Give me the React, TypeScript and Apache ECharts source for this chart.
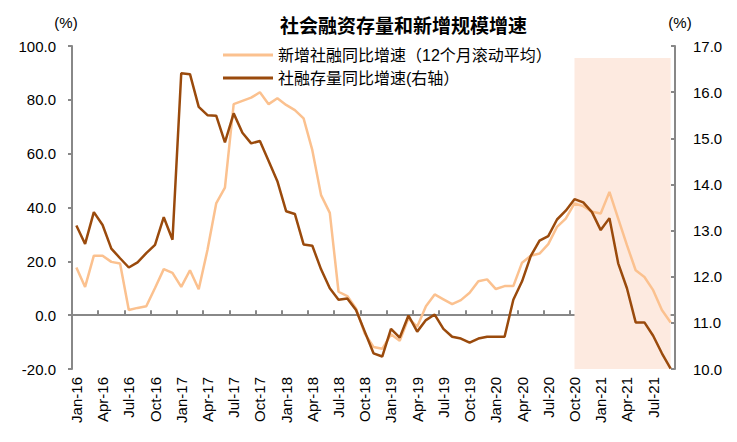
import React, { useEffect, useRef } from "react";
import * as echarts from "echarts";

const MONTHS = ["Jan", "Feb", "Mar", "Apr", "May", "Jun", "Jul", "Aug", "Sep", "Oct", "Nov", "Dec"];
const YEARS = ["16", "17", "18", "19", "20", "21"];
const categories: string[] = [];
YEARS.forEach((y) => MONTHS.forEach((m) => categories.push(`${m}-${y}`)));
categories.splice(69);

// 新增社融同比增速（12个月滚动平均）, left axis, %
const newFinancing = [
  17.7, 10.5, 22.1, 22.1, 19.8, 19.2, 1.9, 2.7, 3.3, 10.1, 17.1, 15.7,
  10.5, 16.7, 9.6, 24.2, 41.5, 47.4, 78.4, 79.6, 80.8, 82.8, 78.4, 80.6,
  78.1, 76.2, 73.1, 61.3, 44.6, 38.0, 8.7, 7.1, 2.5, -6.8, -11.8, -12.5,
  -7.1, -9.5, -1.2, -4.3, 3.3, 7.7, 5.9, 4.1, 5.6, 8.3, 12.6, 13.3,
  9.7, 10.8, 10.8, 19.5, 22.1, 22.9, 26.4, 32.8, 35.9, 41.5, 40.5, 38.4,
  37.8, 45.8, 35.9, 26.0, 16.7, 14.2, 9.3, 1.9, -2.7,
];

// 社融存量同比增速(右轴), right axis, %
const stockGrowth = [
  13.11, 12.71, 13.4, 13.12, 12.61, 12.4, 12.2, 12.31, 12.51, 12.69, 13.29, 12.8,
  16.41, 16.39, 15.68, 15.5, 15.49, 14.91, 15.54, 15.12, 14.89, 14.94, 14.51, 14.07,
  13.42, 13.36, 12.7, 12.67, 12.16, 11.75, 11.5, 11.53, 11.28, 10.81, 10.34, 10.27,
  10.87, 10.68, 11.16, 10.81, 11.06, 11.18, 10.87, 10.7, 10.66, 10.57, 10.66, 10.7,
  10.7, 10.7, 11.5, 11.9, 12.45, 12.78, 12.88, 13.24, 13.43, 13.68, 13.61, 13.4,
  13.01, 13.27, 12.29, 11.75, 11.01, 11.01, 10.72, 10.34, 10.01,
];

const shadeStart = "Oct-20";
const shadeEnd = "Sep-21";
const shadeTop = 95.5;

const FONT = "'Liberation Sans', Arial, 'Noto Sans CJK SC', sans-serif";

export default function App() {
  const ref = useRef<HTMLDivElement>(null);
  useEffect(() => {
    if (!ref.current) return;
    const chart = echarts.init(ref.current, undefined, { renderer: "svg" });
    chart.setOption({
      animation: false,
      backgroundColor: "#ffffff",
      textStyle: { fontFamily: FONT },
      title: {
        text: "社会融资存量和新增规模增速",
        left: 275,
        top: 10,
        textStyle: { fontSize: 19, fontWeight: "bold", color: "#000", fontFamily: "'Noto Sans CJK SC', sans-serif" },
      },
      legend: {
        orient: "vertical",
        left: 218,
        top: 41,
        itemWidth: 50,
        itemHeight: 3,
        itemGap: 5,
        icon: "rect",
        data: ["新增社融同比增速（12个月滚动平均）", "社融存量同比增速(右轴）"],
        textStyle: { fontSize: 16, color: "#000", lineHeight: 18, fontFamily: FONT },
      },
      grid: { left: 72, right: 62, top: 46, bottom: 73, containLabel: false },
      xAxis: [
        {
          type: "category",
          data: categories,
          boundaryGap: true,
          axisLine: { show: false, onZero: false },
          axisTick: { show: false },
          axisLabel: { interval: 2, rotate: 90, fontSize: 15, color: "#000", margin: 8, fontFamily: FONT },
        },
        {
          type: "category",
          data: categories,
          boundaryGap: true,
          axisLine: { show: true, onZero: true, lineStyle: { color: "#888", width: 2 } },
          axisTick: { show: true, interval: 2, length: 5, lineStyle: { color: "#888", width: 2 } },
          axisLabel: { show: false },
        },
      ],
      yAxis: [
        {
          type: "value",
          min: -20,
          max: 100,
          interval: 20,
          name: "(%)",
          nameLocation: "end",
          nameGap: 16,
          nameTextStyle: { fontSize: 15, color: "#000", align: "center", padding: [0, 12, 0, 0] },
          splitLine: { show: false },
          axisLine: { show: true, lineStyle: { color: "#888", width: 2 } },
          axisTick: { show: true, length: 4, lineStyle: { color: "#888", width: 2 } },
          axisLabel: { fontSize: 15, color: "#000", margin: 16, formatter: (v: number) => v.toFixed(1) },
        },
        {
          type: "value",
          min: 10,
          max: 17,
          interval: 1,
          position: "right",
          name: "(%)",
          nameLocation: "end",
          nameGap: 16,
          nameTextStyle: { fontSize: 15, color: "#000", align: "center", padding: [0, 0, 0, 10] },
          splitLine: { show: false },
          axisLine: { show: true, lineStyle: { color: "#888", width: 2 } },
          axisTick: { show: true, inside: true, length: 4, lineStyle: { color: "#888", width: 2 } },
          axisLabel: { fontSize: 15, color: "#000", margin: 18, formatter: (v: number) => v.toFixed(1) },
        },
      ],
      series: [
        {
          name: "shade",
          type: "line",
          xAxisIndex: 0,
          yAxisIndex: 0,
          data: [],
          z: 1,
          silent: true,
          markArea: {
            silent: true,
            itemStyle: { color: "#FDEAE0" },
            data: [[{ xAxis: shadeStart, yAxis: -20 }, { xAxis: shadeEnd, yAxis: shadeTop }]],
          },
        },
        {
          name: "新增社融同比增速（12个月滚动平均）",
          type: "line",
          xAxisIndex: 0,
          yAxisIndex: 0,
          data: newFinancing,
          symbol: "none",
          z: 3,
          lineStyle: { color: "#FBC18F", width: 2.5 },
          itemStyle: { color: "#FBC18F" },
        },
        {
          name: "社融存量同比增速(右轴）",
          type: "line",
          xAxisIndex: 0,
          yAxisIndex: 1,
          data: stockGrowth,
          symbol: "none",
          z: 4,
          lineStyle: { color: "#9A4A0C", width: 2.5 },
          itemStyle: { color: "#9A4A0C" },
        },
      ],
    });
    return () => chart.dispose();
  }, []);
  return <div ref={ref} style={{ position: "fixed", left: 0, top: 0, width: 737, height: 442 }} />;
}
